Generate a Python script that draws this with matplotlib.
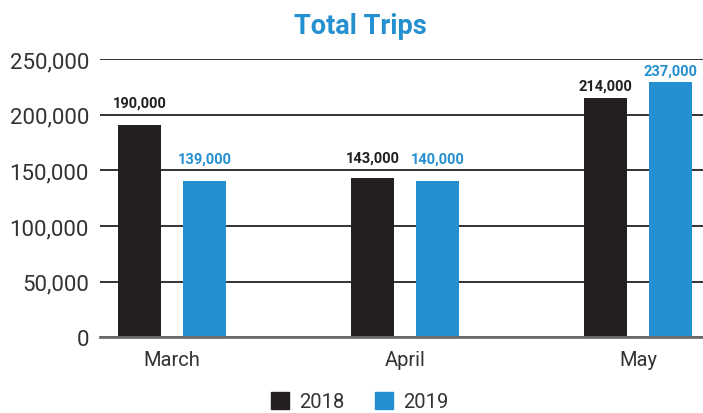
import matplotlib.pyplot as plt
import numpy as np
from matplotlib.patches import Patch
from matplotlib.ticker import FuncFormatter

plt.rcParams['font.family'] = ['Roboto', 'DejaVu Sans']

months = ['March', 'April', 'May']
years = ['2018', '2019']
# bar heights as drawn in the picture
trips_2018 = [191000, 143000, 215000]
trips_2019 = [140500, 140500, 229600]
# value labels as printed
labels_2018 = ['190,000', '143,000', '214,000']
labels_2019 = ['139,000', '140,000', '237,000']

dark = '#231f20'
blue = '#2590d0'

fig = plt.figure(figsize=(7.03, 4.14), dpi=100)
ax = fig.add_axes([100 / 703, 0.1829, 1 - 100 / 703, 0.855 - 0.1829])

x = np.arange(len(months))
w = 0.185
off = 0.14
b1 = ax.bar(x - off, trips_2018, w, color=dark, zorder=3)
b2 = ax.bar(x + off, trips_2019, w, color=blue, zorder=3)

# label gaps above bar tops, in points
pads_2018 = [16, 15, 9]
pads_2019 = [16, 16, 8]
for bars, labs, pads, col in ((b1, labels_2018, pads_2018, dark), (b2, labels_2019, pads_2019, blue)):
    for bar, lab, p in zip(bars, labs, pads):
        ax.annotate(lab, (bar.get_x() + bar.get_width() / 2, bar.get_height()),
                    xytext=(0, p), textcoords='offset points', ha='center', va='center',
                    fontsize=10.5, fontweight='bold', color=col)

ax.set_xlim(-0.309, 2.279)
ax.set_ylim(0, 250000)
ax.set_yticks(range(0, 250001, 50000))
ax.yaxis.set_major_formatter(FuncFormatter(lambda v, p: f'{int(v):,}'))
ax.set_xticks(x)
ax.set_xticklabels(months)
ax.tick_params(axis='y', length=0, pad=8, labelsize=16, labelcolor='#333333')
ax.tick_params(axis='x', length=0, pad=9, labelsize=14.5, labelcolor='#333333')
ax.grid(axis='y', color='#333333', linewidth=1.4, zorder=0)
for s in ('top', 'right', 'left'):
    ax.spines[s].set_visible(False)
ax.spines['bottom'].set_color('#6d6d6d')
ax.spines['bottom'].set_linewidth(2)
ax.spines['bottom'].set_zorder(4)

fig.text(0.512, 0.935, 'Total Trips', ha='center', va='center', fontsize=19.5,
         fontweight='bold', color=blue)

handles = [Patch(color=dark), Patch(color=blue)]
leg = fig.legend(handles, years, loc='center', bbox_to_anchor=(0.512, 0.027), ncol=2,
                 frameon=False, fontsize=14.5, handlelength=0.9, handleheight=0.9,
                 handletextpad=0.5, columnspacing=1.5, borderpad=0)
for t in leg.get_texts():
    t.set_color('#333333')

fig.savefig('out.png', dpi=100)
